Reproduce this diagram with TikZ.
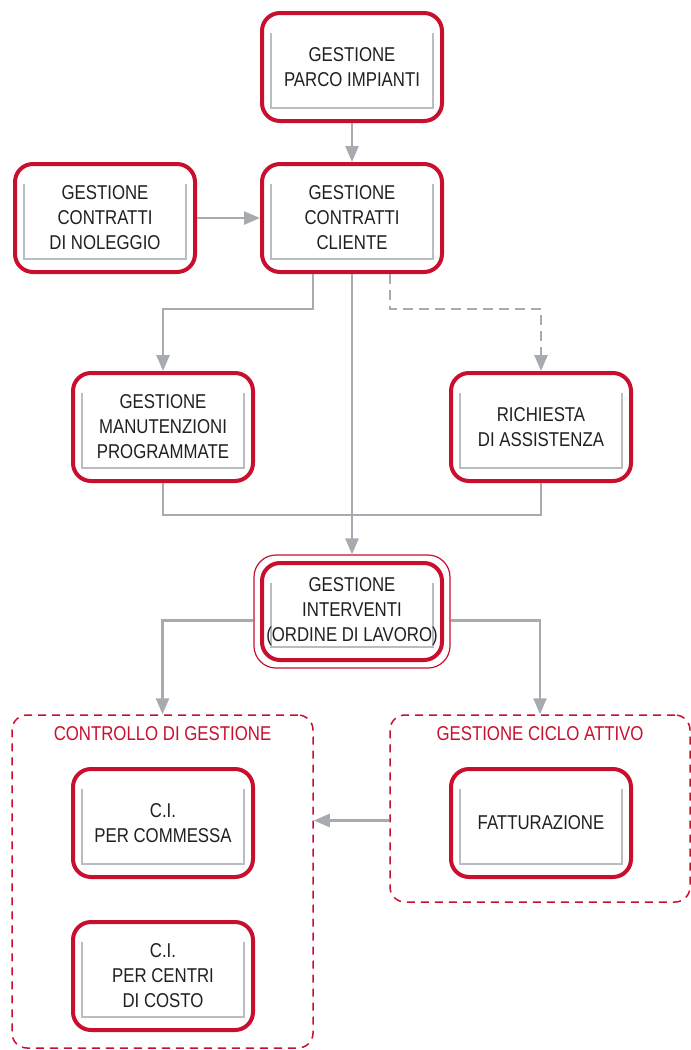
\documentclass[tikz,border=0pt]{standalone}
\usepackage{fontspec}
\setmainfont{Liberation Sans}[FakeStretch=0.84]
\usetikzlibrary{positioning,arrows.meta,fit,calc}
\definecolor{cRed}{HTML}{C8102E}
\definecolor{cLine}{HTML}{A7ABAF}
\definecolor{cTray}{HTML}{B9BDC1}
\definecolor{cText}{HTML}{231F20}
\tikzset{
  blk/.style={draw=cRed, line width=2pt, rounded corners=9pt, fill=white,
              minimum width=90pt, minimum height=54pt, align=center, inner sep=1pt,
              text=cText, font=\fontsize{10}{12.5}\selectfont,
              path picture={\draw[cTray, line width=.8pt, sharp corners]
                ([shift={(4.5pt,-10pt)}]path picture bounding box.north west) --
                ([shift={(4.5pt,6.5pt)}]path picture bounding box.south west) --
                ([shift={(-4.5pt,6.5pt)}]path picture bounding box.south east) --
                ([shift={(-4.5pt,-10pt)}]path picture bounding box.north east);}},
  blko/.style={draw=cRed, line width=.6pt, rounded corners=11pt, inner sep=3pt},
  grp/.style={draw=cRed, line width=.75pt, dash pattern=on 4pt off 3pt,
              rounded corners=7.5pt},
  grpt/.style={text=cRed, font=\fontsize{10}{12.5}\selectfont},
  ar/.style={-{Triangle[length=8pt,width=6.5pt]}, line width=1.3pt, cLine},
  ard/.style={ar, dash pattern=on 5pt off 3pt},
  ln/.style={line width=1.3pt, cLine},
}

\begin{document}
\begin{tikzpicture}[x=0.5pt, y=-0.5pt]
    \useasboundingbox (0,0) rectangle (691,1050);

    \node[blk] (pi) at (352,67) {GESTIONE\\PARCO IMPIANTI};
    \node[blk] (cn) at (105,218) {GESTIONE\\CONTRATTI\\DI NOLEGGIO};
    \node[blk] (cc) at (352,218) {GESTIONE\\CONTRATTI\\CLIENTE};
    \node[blk] (mp) at (163,427) {GESTIONE\\MANUTENZIONI\\PROGRAMMATE};
    \node[blk] (ra) at (541,427) {RICHIESTA\\DI ASSISTENZA};
    \node[blk, minimum height=48.5pt] (iv) at (352,611.5)
      {GESTIONE\\INTERVENTI\\(ORDINE DI LAVORO)};
    \node[blko, fit=(iv)] (ivo) {};

    \node[grp, minimum width=150.5pt, minimum height=166.5pt] (cg) at (162.5,881.5) {};
    \node[grp, minimum width=150pt, minimum height=93.5pt] (ca) at (540,808.5) {};
    \node[grpt] (cgt) at ($(cg.north)+(0,19)$) {CONTROLLO DI GESTIONE};
    \node[grpt] (cat) at ($(ca.north)+(0,19)$) {GESTIONE CICLO ATTIVO};

    \node[blk] (cm) at (163,823) {C.I.\\PER COMMESSA};
    \node[blk] (cd) at (163,976) {C.I.\\PER CENTRI\\DI COSTO};
    \node[blk] (ft) at (541,823) {FATTURAZIONE};

    \draw[ar] (pi) -- (cc);
    \draw[ar] (cn) -- (cc);
    \draw[ar] ($(cc.south)+(-39,0)$) -- ++(0,35) -| (mp);
    \draw[ard] ($(cc.south)+(38,0)$) -- ++(0,35) -| (ra);
    \draw[ln] (mp.south) -- ++(0,32) -| (ra.south);
    \draw[ar] (cc) -- (ivo);
    \draw[ar] ($(ivo.west)+(0,9)$) -| (cg);
    \draw[ar] ($(ivo.east)+(0,9)$) -| (ca);
    \coordinate (fa) at ($(ca.west)+(0,12)$);
    \draw[ar] (fa) -- (fa -| cg.east);
\end{tikzpicture}
\end{document}
